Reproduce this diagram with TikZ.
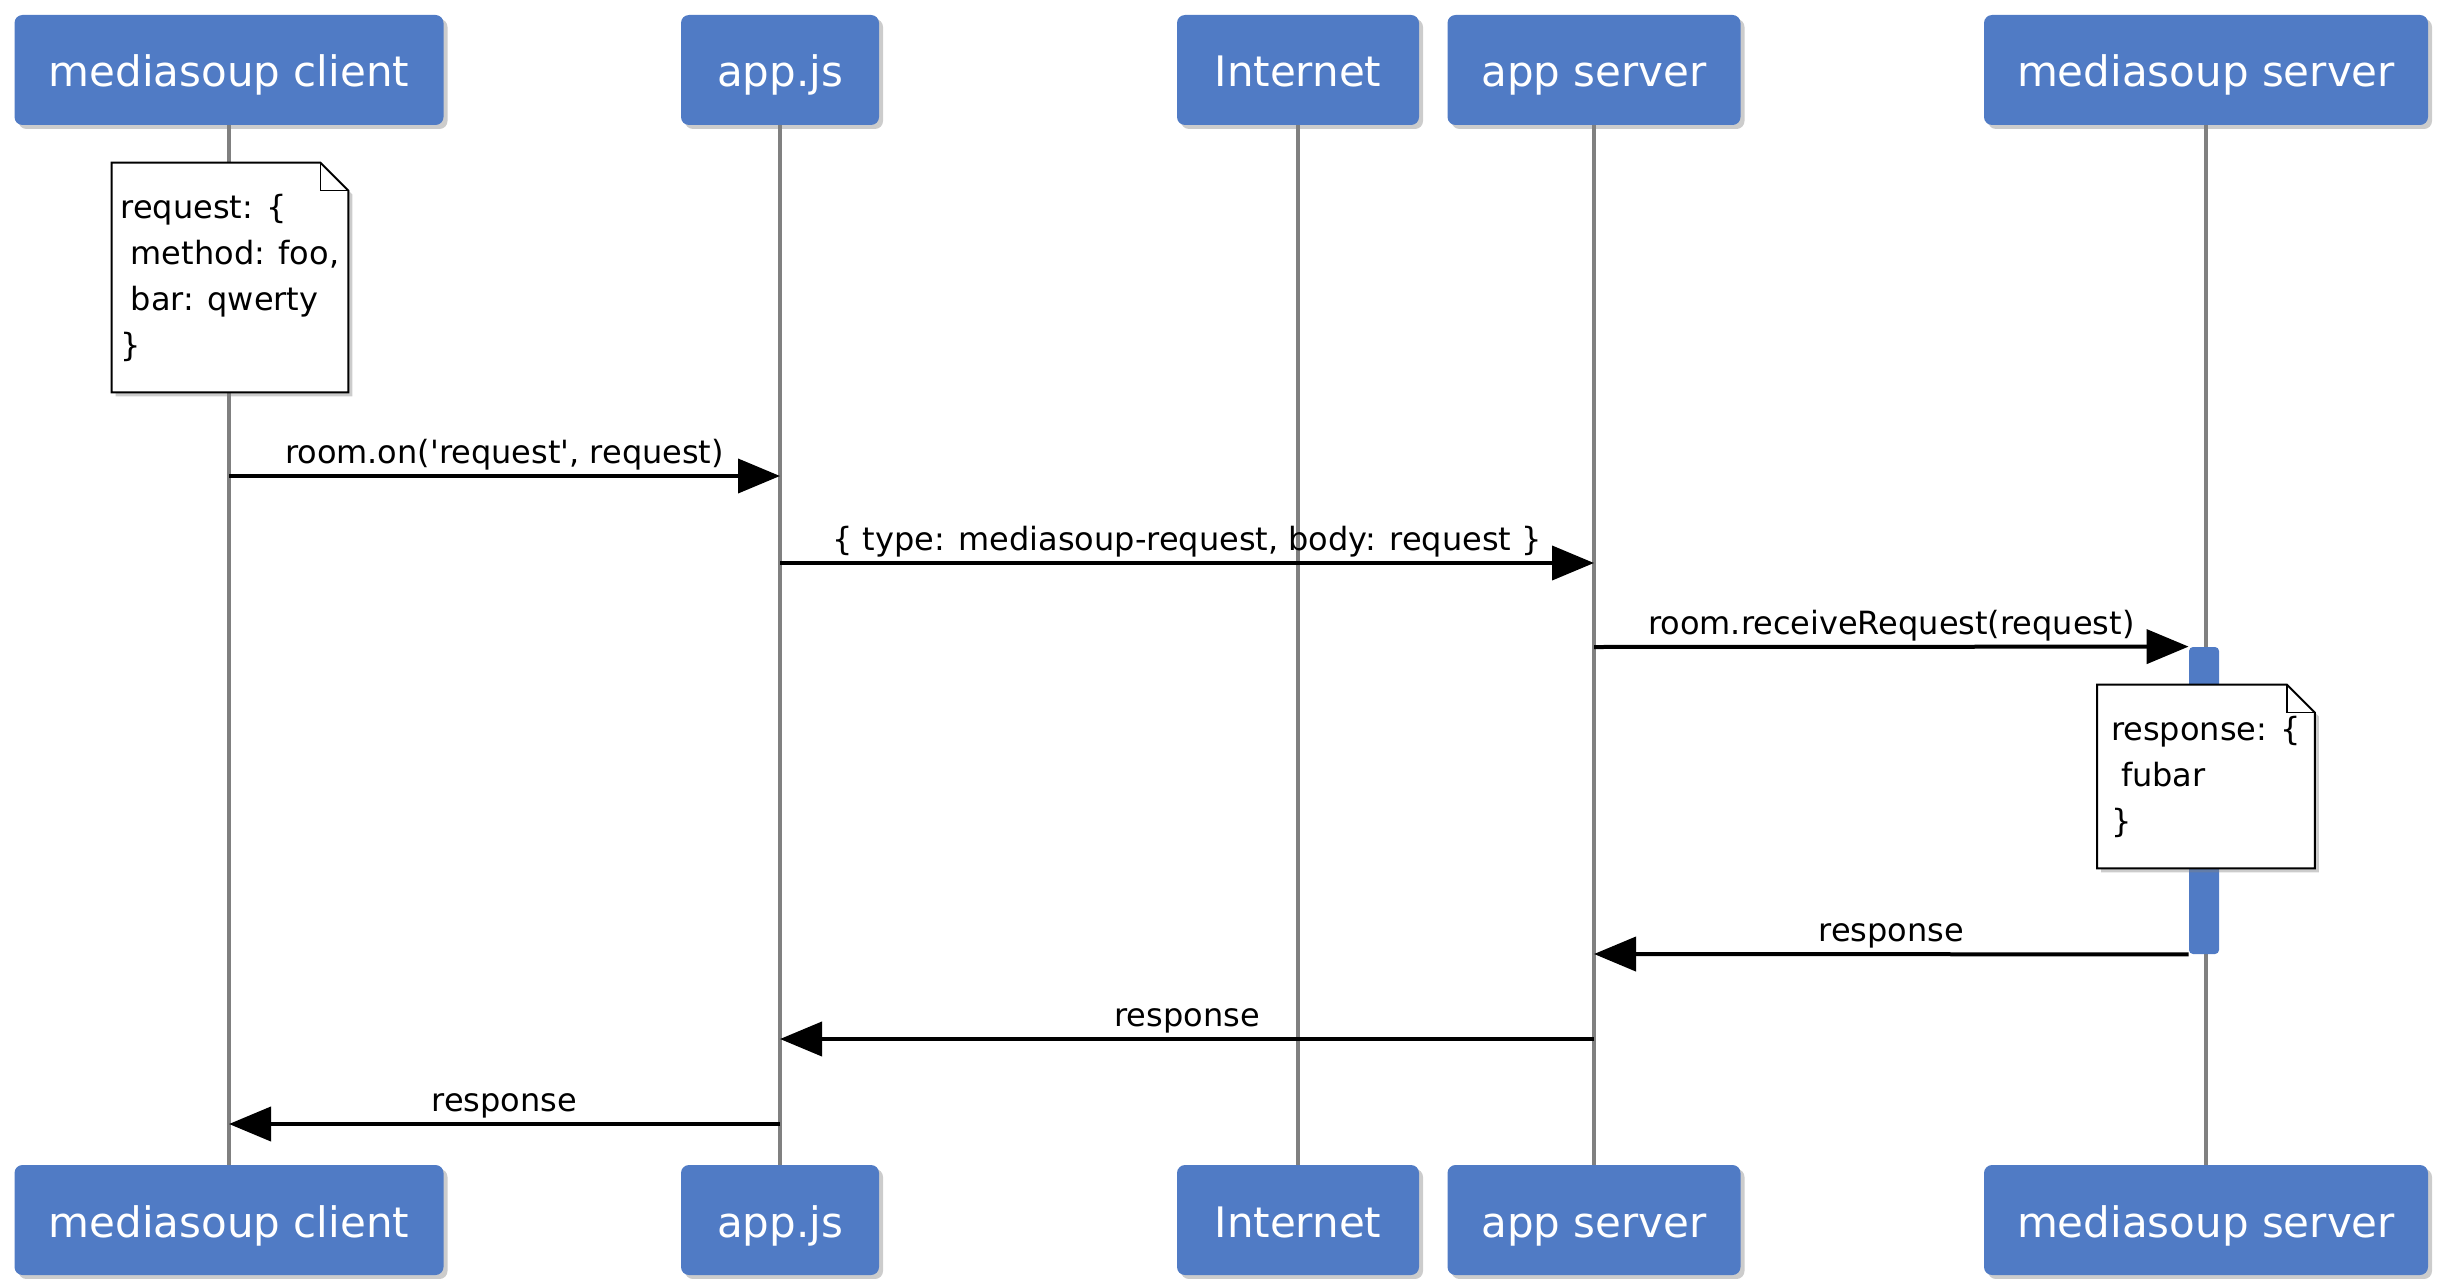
\documentclass[tikz,border=0pt]{standalone}
\usepackage{fontspec}
\setmainfont{DejaVu Sans}
\usetikzlibrary{arrows.meta, shadows, positioning}
\pgfdeclarelayer{back}
\pgfdeclarelayer{mid}
\pgfsetlayers{back,mid,main}
\definecolor{actorblue}{RGB}{80,123,197}
\definecolor{lifegray}{RGB}{128,128,128}
\newcommand{\noteframe}[1]{%
  \begin{pgfonlayer}{mid}
  \filldraw[notefr] (#1.north west) -- ([xshift=-14pt]#1.north east) -- ([yshift=-14pt]#1.north east) -- (#1.south east) -- (#1.south west) -- cycle;
  \draw[line width=0.6pt] ([xshift=-14pt]#1.north east) |- ([yshift=-14pt]#1.north east);
  \end{pgfonlayer}}

\begin{document}
\begin{tikzpicture}[x=0.5pt, y=-0.5pt, >={Triangle[length=21pt,width=17pt]},
  actor/.style={fill=actorblue, rounded corners=4pt, text=white, minimum height=55pt, inner sep=0pt, text height=21pt, text depth=4pt, font=\fontsize{21}{25}\selectfont, drop shadow={shadow xshift=2pt, shadow yshift=-2pt, opacity=0.4}},
  life/.style={draw=lifegray, line width=1.6pt},
  msg/.style={->, line width=2pt},
  lbl/.style={above, inner sep=2pt, font=\fontsize{16}{19}\selectfont},
  note/.style={align=left, inner sep=0pt, font=\fontsize{16}{23}\selectfont},
  notefr/.style={fill=white, draw=black, line width=1pt, drop shadow={shadow xshift=2pt, shadow yshift=-2pt, opacity=0.4}},
  actbar/.style={fill=actorblue, minimum width=15pt, inner sep=0pt, rounded corners=2pt}]
\useasboundingbox (0,0) rectangle (2457,1279);
\node[actor, minimum width=214.5pt] (clientT) at (229,70) {mediasoup client};
\node[actor, minimum width=99pt] (appjsT) at (780,70) {app.js};
\node[actor, minimum width=121pt] (netT) at (1298,70) {Internet};
\node[actor, minimum width=146.5pt] (appsrvT) at (1594,70) {app server};
\node[actor, minimum width=222pt] (msrvT) at (2206,70) {mediasoup server};
\node[actor, minimum width=214.5pt] (clientB) at (229,1220) {mediasoup client};
\node[actor, minimum width=99pt] (appjsB) at (780,1220) {app.js};
\node[actor, minimum width=121pt] (netB) at (1298,1220) {Internet};
\node[actor, minimum width=146.5pt] (appsrvB) at (1594,1220) {app server};
\node[actor, minimum width=222pt] (msrvB) at (2206,1220) {mediasoup server};
\begin{pgfonlayer}{back}
\draw[life] (clientT) -- (clientB);
\draw[life] (appjsT) -- (appjsB);
\draw[life] (netT) -- (netB);
\draw[life] (appsrvT) -- (appsrvB);
\draw[life] (msrvT) -- (msrvB);
\node[actbar, minimum height=153.5pt] (act) at (2204,800.5) {};
\end{pgfonlayer}
\node[note, minimum width=118pt, minimum height=114.5pt] (reqnote) at (230,277.5) {request: \{\\\hspace*{5pt}method: foo,\\\hspace*{5pt}bar: qwerty\\\}};
\noteframe{reqnote}
\node[note, minimum width=108.5pt, minimum height=91.5pt] (resnote) at (2206,776.5) {response: \{\\\hspace*{5pt}fubar\\\}};
\noteframe{resnote}
\coordinate (c1) at (229,476);
\coordinate (a1) at (780,476);
\coordinate (a2) at (780,563);
\coordinate (s2) at (1594,563);
\coordinate (s3) at (1594,647);
\coordinate (s4) at (1594,954);
\coordinate (s5) at (1594,1039);
\coordinate (a5) at (780,1039);
\coordinate (a6) at (780,1124);
\coordinate (c6) at (229,1124);
\draw[msg] (c1) -- node[lbl] {room.on(\textquotesingle request\textquotesingle, request)} (a1);
\draw[msg] (a2) -- node[lbl] {\{ type: mediasoup-request, body: request \}} (s2);
\draw[msg] (s3) -- node[lbl] {room.receiveRequest(request)} (act.north west);
\draw[msg] (act.south west) -- node[lbl] {response} (s4);
\draw[msg] (s5) -- node[lbl] {response} (a5);
\draw[msg] (a6) -- node[lbl] {response} (c6);
\end{tikzpicture}
\end{document}
